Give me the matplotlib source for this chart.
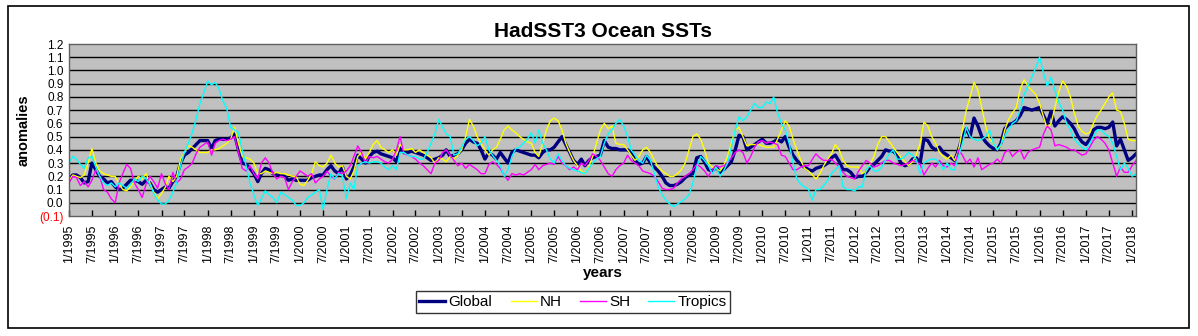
import matplotlib
matplotlib.use("Agg")
import matplotlib.pyplot as plt
import pandas as pd

# monthly anomalies, 1/1995 .. 2/2018 (one row per year)
global_sst = [
    0.18, 0.21, 0.21, 0.19, 0.15, 0.16, 0.30, 0.25, 0.20, 0.18, 0.15, 0.16,
    0.12, 0.10, 0.11, 0.14, 0.17, 0.17, 0.16, 0.14, 0.17, 0.15, 0.10, 0.08,
    0.10, 0.12, 0.11, 0.16, 0.20, 0.30, 0.36, 0.38, 0.41, 0.44, 0.47, 0.47,
    0.47, 0.41, 0.47, 0.48, 0.48, 0.48, 0.49, 0.52, 0.40, 0.30, 0.29, 0.26,
    0.22, 0.16, 0.22, 0.26, 0.25, 0.22, 0.21, 0.21, 0.20, 0.17, 0.18, 0.17,
    0.17, 0.17, 0.17, 0.19, 0.20, 0.21, 0.21, 0.25, 0.28, 0.24, 0.22, 0.27,
    0.18, 0.21, 0.27, 0.36, 0.33, 0.30, 0.35, 0.38, 0.39, 0.37, 0.36, 0.35,
    0.34, 0.31, 0.42, 0.38, 0.38, 0.39, 0.38, 0.37, 0.36, 0.34, 0.32, 0.33,
    0.34, 0.36, 0.40, 0.35, 0.36, 0.37, 0.40, 0.45, 0.48, 0.46, 0.45, 0.40,
    0.33, 0.38, 0.36, 0.33, 0.38, 0.34, 0.30, 0.38, 0.40, 0.39, 0.38, 0.37,
    0.36, 0.36, 0.34, 0.38, 0.40, 0.40, 0.42, 0.46, 0.50, 0.44, 0.38, 0.32,
    0.29, 0.33, 0.28, 0.32, 0.34, 0.35, 0.36, 0.47, 0.42, 0.41, 0.41, 0.40,
    0.40, 0.40, 0.38, 0.32, 0.29, 0.30, 0.35, 0.30, 0.27, 0.24, 0.20, 0.15,
    0.13, 0.13, 0.14, 0.16, 0.19, 0.21, 0.22, 0.34, 0.35, 0.31, 0.25, 0.24,
    0.27, 0.23, 0.25, 0.28, 0.31, 0.40, 0.51, 0.50, 0.40, 0.42, 0.44, 0.46,
    0.48, 0.45, 0.45, 0.46, 0.48, 0.46, 0.50, 0.42, 0.36, 0.32, 0.29, 0.27,
    0.25, 0.24, 0.26, 0.27, 0.28, 0.30, 0.34, 0.36, 0.31, 0.25, 0.25, 0.23,
    0.19, 0.20, 0.20, 0.23, 0.27, 0.29, 0.32, 0.35, 0.40, 0.39, 0.39, 0.36,
    0.30, 0.28, 0.29, 0.33, 0.34, 0.30, 0.48, 0.47, 0.42, 0.40, 0.42, 0.38,
    0.36, 0.34, 0.32, 0.40, 0.50, 0.56, 0.50, 0.64, 0.58, 0.50, 0.46, 0.43,
    0.41, 0.40, 0.45, 0.56, 0.59, 0.60, 0.62, 0.66, 0.72, 0.71, 0.70, 0.71,
    0.72, 0.66, 0.60, 0.69, 0.58, 0.62, 0.65, 0.63, 0.60, 0.56, 0.50, 0.46,
    0.44, 0.48, 0.55, 0.57, 0.57, 0.56, 0.57, 0.61, 0.43, 0.48, 0.40, 0.32,
    0.34, 0.37,
]

nh_sst = [
    0.17, 0.21, 0.20, 0.19, 0.21, 0.30, 0.41, 0.30, 0.24, 0.22, 0.21, 0.20,
    0.20, 0.14, 0.10, 0.09, 0.12, 0.16, 0.20, 0.18, 0.22, 0.15, 0.08, 0.03,
    0.07, 0.12, 0.20, 0.16, 0.20, 0.33, 0.38, 0.43, 0.42, 0.40, 0.38, 0.38,
    0.38, 0.40, 0.40, 0.41, 0.43, 0.45, 0.48, 0.57, 0.45, 0.35, 0.34, 0.33,
    0.30, 0.22, 0.22, 0.24, 0.23, 0.22, 0.23, 0.22, 0.22, 0.21, 0.20, 0.20,
    0.14, 0.13, 0.17, 0.22, 0.31, 0.28, 0.27, 0.30, 0.36, 0.30, 0.27, 0.28,
    0.20, 0.18, 0.24, 0.35, 0.38, 0.33, 0.38, 0.44, 0.47, 0.42, 0.40, 0.38,
    0.40, 0.36, 0.44, 0.40, 0.40, 0.41, 0.38, 0.40, 0.38, 0.36, 0.34, 0.30,
    0.34, 0.33, 0.31, 0.35, 0.33, 0.36, 0.40, 0.50, 0.63, 0.58, 0.50, 0.45,
    0.40, 0.36, 0.40, 0.42, 0.48, 0.55, 0.58, 0.55, 0.53, 0.50, 0.48, 0.46,
    0.45, 0.38, 0.35, 0.45, 0.55, 0.62, 0.64, 0.62, 0.55, 0.45, 0.38, 0.32,
    0.28, 0.24, 0.22, 0.27, 0.35, 0.45, 0.55, 0.60, 0.56, 0.58, 0.45, 0.44,
    0.44, 0.40, 0.36, 0.32, 0.35, 0.40, 0.42, 0.38, 0.32, 0.27, 0.24, 0.22,
    0.20, 0.20, 0.22, 0.25, 0.30, 0.40, 0.50, 0.52, 0.48, 0.40, 0.30, 0.27,
    0.26, 0.24, 0.28, 0.35, 0.45, 0.55, 0.57, 0.50, 0.43, 0.44, 0.44, 0.44,
    0.43, 0.42, 0.42, 0.42, 0.48, 0.55, 0.62, 0.58, 0.48, 0.40, 0.32, 0.26,
    0.24, 0.21, 0.18, 0.22, 0.28, 0.33, 0.37, 0.44, 0.40, 0.32, 0.28, 0.27,
    0.27, 0.27, 0.22, 0.24, 0.29, 0.35, 0.44, 0.50, 0.50, 0.46, 0.42, 0.38,
    0.34, 0.31, 0.28, 0.31, 0.36, 0.45, 0.61, 0.58, 0.50, 0.45, 0.38, 0.35,
    0.33, 0.36, 0.32, 0.40, 0.55, 0.70, 0.80, 0.91, 0.85, 0.72, 0.58, 0.48,
    0.45, 0.40, 0.43, 0.55, 0.63, 0.68, 0.72, 0.86, 0.93, 0.88, 0.85, 0.82,
    0.75, 0.65, 0.56, 0.60, 0.72, 0.84, 0.92, 0.88, 0.80, 0.68, 0.58, 0.54,
    0.52, 0.53, 0.60, 0.66, 0.70, 0.75, 0.80, 0.83, 0.70, 0.69, 0.60, 0.48,
    0.47, 0.47,
]

sh_sst = [
    0.15, 0.20, 0.19, 0.13, 0.16, 0.12, 0.17, 0.25, 0.20, 0.10, 0.08, 0.03,
    0.00, 0.15, 0.22, 0.29, 0.26, 0.15, 0.10, 0.04, 0.14, 0.20, 0.16, 0.11,
    0.22, 0.14, 0.10, 0.23, 0.15, 0.18, 0.25, 0.27, 0.30, 0.37, 0.42, 0.44,
    0.46, 0.36, 0.45, 0.47, 0.48, 0.47, 0.48, 0.50, 0.38, 0.26, 0.24, 0.28,
    0.22, 0.18, 0.30, 0.34, 0.30, 0.22, 0.18, 0.20, 0.19, 0.10, 0.16, 0.20,
    0.24, 0.22, 0.20, 0.22, 0.15, 0.18, 0.20, 0.24, 0.20, 0.18, 0.23, 0.22,
    0.24, 0.28, 0.35, 0.43, 0.38, 0.30, 0.35, 0.34, 0.35, 0.33, 0.31, 0.30,
    0.33, 0.40, 0.50, 0.37, 0.36, 0.35, 0.33, 0.30, 0.28, 0.25, 0.22, 0.30,
    0.32, 0.38, 0.40, 0.36, 0.32, 0.28, 0.30, 0.26, 0.29, 0.27, 0.25, 0.22,
    0.22, 0.29, 0.31, 0.29, 0.26, 0.21, 0.17, 0.22, 0.21, 0.22, 0.21, 0.23,
    0.25, 0.29, 0.25, 0.28, 0.29, 0.30, 0.29, 0.35, 0.30, 0.28, 0.25, 0.27,
    0.25, 0.30, 0.28, 0.32, 0.37, 0.35, 0.32, 0.27, 0.22, 0.20, 0.25, 0.28,
    0.30, 0.36, 0.32, 0.30, 0.28, 0.24, 0.23, 0.22, 0.20, 0.16, 0.11, 0.10,
    0.10, 0.11, 0.15, 0.18, 0.20, 0.22, 0.25, 0.29, 0.27, 0.24, 0.20, 0.25,
    0.28, 0.27, 0.28, 0.30, 0.34, 0.38, 0.40, 0.38, 0.30, 0.35, 0.42, 0.46,
    0.47, 0.45, 0.46, 0.45, 0.44, 0.36, 0.35, 0.30, 0.25, 0.25, 0.27, 0.28,
    0.28, 0.33, 0.37, 0.34, 0.32, 0.32, 0.33, 0.30, 0.27, 0.23, 0.20, 0.19,
    0.18, 0.24, 0.28, 0.32, 0.30, 0.27, 0.28, 0.30, 0.32, 0.32, 0.30, 0.29,
    0.28, 0.29, 0.30, 0.32, 0.31, 0.29, 0.21, 0.26, 0.30, 0.27, 0.32, 0.28,
    0.27, 0.30, 0.28, 0.40, 0.36, 0.30, 0.33, 0.27, 0.34, 0.25, 0.27, 0.29,
    0.30, 0.33, 0.30, 0.38, 0.40, 0.35, 0.38, 0.40, 0.33, 0.38, 0.40, 0.41,
    0.42, 0.52, 0.58, 0.55, 0.43, 0.44, 0.43, 0.42, 0.40, 0.40, 0.38, 0.36,
    0.37, 0.42, 0.47, 0.50, 0.48, 0.45, 0.40, 0.30, 0.20, 0.27, 0.23, 0.23,
    0.28, 0.32,
]

tropics_sst = [
    0.30, 0.35, 0.33, 0.29, 0.26, 0.34, 0.35, 0.27, 0.20, 0.15, 0.13, 0.15,
    0.12, 0.15, 0.13, 0.11, 0.14, 0.18, 0.16, 0.20, 0.18, 0.14, 0.07, 0.02,
    -0.01, -0.01, 0.02, 0.08, 0.15, 0.28, 0.38, 0.45, 0.53, 0.63, 0.75, 0.83,
    0.92, 0.89, 0.91, 0.86, 0.77, 0.71, 0.57, 0.55, 0.53, 0.40, 0.28, 0.15,
    0.06, -0.02, 0.03, 0.09, 0.06, 0.04, 0.00, 0.08, 0.06, 0.04, 0.02, -0.02,
    -0.02, 0.00, 0.04, 0.06, 0.08, 0.10, -0.05, 0.10, 0.22, 0.18, 0.22, 0.20,
    0.03, 0.15, 0.10, 0.28, 0.30, 0.31, 0.30, 0.31, 0.31, 0.30, 0.27, 0.25,
    0.28, 0.25, 0.38, 0.38, 0.36, 0.35, 0.35, 0.33, 0.33, 0.38, 0.45, 0.52,
    0.63, 0.57, 0.52, 0.50, 0.36, 0.37, 0.42, 0.48, 0.50, 0.47, 0.43, 0.45,
    0.50, 0.40, 0.36, 0.32, 0.28, 0.20, 0.25, 0.35, 0.41, 0.42, 0.45, 0.48,
    0.53, 0.45, 0.55, 0.45, 0.40, 0.33, 0.30, 0.37, 0.32, 0.28, 0.26, 0.25,
    0.24, 0.23, 0.22, 0.26, 0.30, 0.33, 0.35, 0.45, 0.52, 0.55, 0.60, 0.63,
    0.58, 0.50, 0.40, 0.36, 0.32, 0.30, 0.36, 0.32, 0.22, 0.12, 0.06, 0.02,
    -0.01, -0.03, -0.01, 0.01, 0.03, 0.06, 0.15, 0.27, 0.35, 0.32, 0.28, 0.22,
    0.27, 0.20, 0.24, 0.30, 0.42, 0.55, 0.65, 0.62, 0.65, 0.70, 0.75, 0.72,
    0.72, 0.76, 0.75, 0.80, 0.68, 0.60, 0.55, 0.45, 0.30, 0.18, 0.14, 0.12,
    0.10, 0.02, 0.10, 0.10, 0.13, 0.17, 0.22, 0.25, 0.28, 0.12, 0.10, 0.10,
    0.09, 0.12, 0.12, 0.25, 0.28, 0.24, 0.24, 0.27, 0.32, 0.37, 0.40, 0.33,
    0.33, 0.35, 0.38, 0.36, 0.33, 0.22, 0.30, 0.32, 0.33, 0.33, 0.30, 0.25,
    0.30, 0.25, 0.25, 0.35, 0.45, 0.57, 0.50, 0.48, 0.47, 0.48, 0.50, 0.55,
    0.45, 0.40, 0.44, 0.50, 0.55, 0.60, 0.62, 0.70, 0.82, 0.88, 0.95, 1.02,
    1.10, 0.98, 0.88, 0.95, 0.85, 0.76, 0.70, 0.60, 0.55, 0.48, 0.45, 0.42,
    0.40, 0.45, 0.50, 0.55, 0.55, 0.52, 0.50, 0.45, 0.35, 0.25, 0.30, 0.26,
    0.20, 0.22,
]

months = pd.date_range("1995-01-01", periods=len(global_sst), freq="MS")
tick_dates = pd.date_range("1995-01-01", "2018-01-01", freq="6MS")
y_ticks = [round(-0.1 + 0.1 * i, 1) for i in range(14)]

plt.rcParams['font.family'] = ['Liberation Sans', 'DejaVu Sans']

fig = plt.figure(figsize=(11.98, 3.36), dpi=100)
fig.patch.set_facecolor('white')
fig.add_artist(plt.Rectangle((8 / 1198, 8 / 336), 1181 / 1198, 322 / 336,
                             transform=fig.transFigure, fill=False,
                             edgecolor='black', linewidth=1.2))

ax = fig.add_axes([69 / 1198, 1 - 216 / 336, 1067 / 1198, 172 / 336])
ax.set_facecolor('#C0C0C0')

ax.plot(months, global_sst, color='#000080', linewidth=2.4, label='Global')
ax.plot(months, nh_sst, color='#FFFF00', linewidth=1.0, label='NH')
ax.plot(months, sh_sst, color='#FF00FF', linewidth=1.0, label='SH')
ax.plot(months, tropics_sst, color='#00FFFF', linewidth=1.0, label='Tropics')

ax.set_xlim(months[0], months[-1])
ax.set_ylim(-0.1, 1.2)
ax.set_yticks(y_ticks)
ax.set_yticklabels(['(%.1f)' % -v if v < 0 else '%.1f' % v for v in y_ticks], fontsize=8.5)
ax.get_yticklabels()[0].set_color('red')
ax.tick_params(axis='y', length=0, pad=4)
for v in y_ticks[1:-1]:
    ax.axhline(v, color='black', linewidth=1.0, zorder=0.5)

ax.set_xticks(tick_dates)
ax.set_xticklabels([f"{d.month}/{d.year}" for d in tick_dates], rotation=90, fontsize=9)
ax.tick_params(axis='x', direction='in', length=4, width=1, pad=6)

for s in ax.spines.values():
    s.set_color('#606060')
    s.set_linewidth(1.0)

ax.set_title('HadSST3 Ocean SSTs', fontsize=15, fontweight='bold', pad=5)
ax.set_ylabel('anomalies', fontsize=10.5, fontweight='bold', labelpad=6)
ax.set_xlabel('years', fontsize=11, fontweight='bold', labelpad=2)

leg = fig.legend(loc='center', bbox_to_anchor=(573 / 1198, 1 - 302 / 336), ncol=4,
                 fontsize=11, frameon=True, fancybox=False, edgecolor='black',
                 handlelength=1.7, handletextpad=0.2, columnspacing=1.2,
                 borderpad=0.25)
leg.get_frame().set_linewidth(1.0)

fig.savefig('out.png', dpi=100)
